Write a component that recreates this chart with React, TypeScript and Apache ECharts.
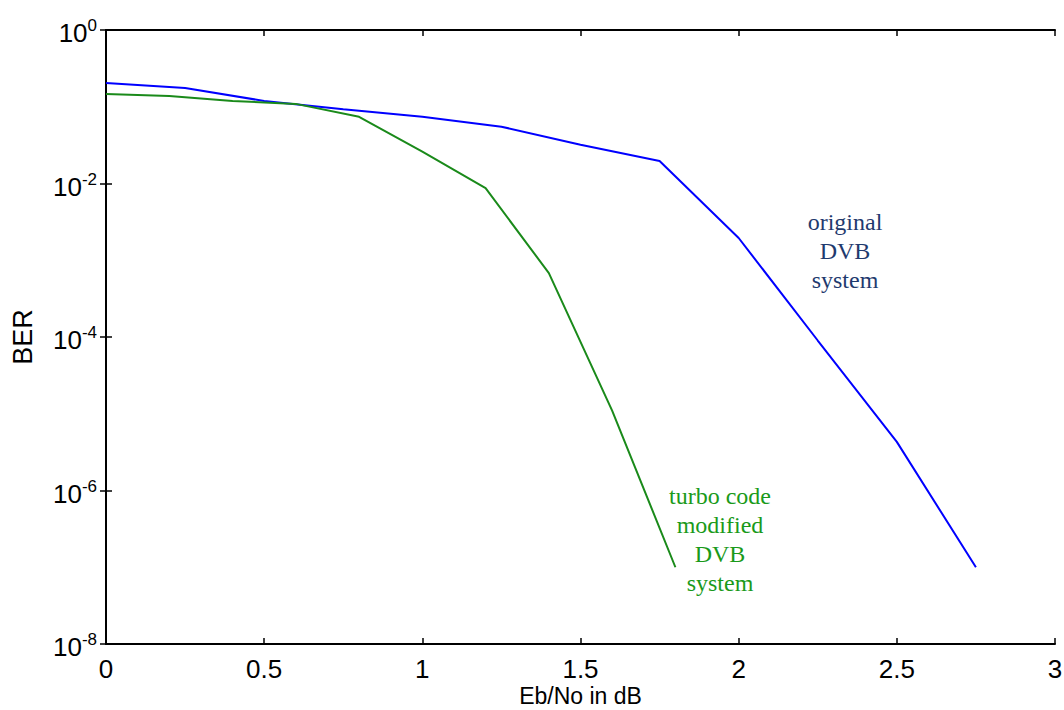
import React, { useEffect, useRef } from "react";
import * as echarts from "echarts";

const ebnoOriginal = [0, 0.25, 0.5, 0.75, 1.0, 1.25, 1.5, 1.75, 2.0, 2.25, 2.5, 2.75];
const berOriginal = [0.204, 0.175, 0.119, 0.093, 0.074, 0.055, 0.032, 0.0196, 0.00195, 9e-5, 4.3e-6, 1e-7];

const ebnoTurbo = [0, 0.2, 0.4, 0.6, 0.8, 1.0, 1.2, 1.4, 1.6, 1.8];
const berTurbo = [0.147, 0.138, 0.119, 0.109, 0.074, 0.026, 0.0087, 6.8e-4, 1.1e-5, 1e-7];

const xTicks = ["0", "0.5", "1", "1.5", "2", "2.5", "3"];
const labelOriginal = ["original", "DVB", "system"];
const labelTurbo = ["turbo code", "modified", "DVB", "system"];

export default function App() {
  const ref = useRef<HTMLDivElement>(null);
  useEffect(() => {
    if (!ref.current) return;
    const chart = echarts.init(ref.current, null, { renderer: "svg" });
    const axisLine = { show: true, lineStyle: { color: "#000", width: 2 } };
    const ticks = { show: true, inside: true, length: 6, lineStyle: { color: "#000", width: 1.5 } };
    const font = "Arial, 'Liberation Sans', sans-serif";
    const serif = "'Times New Roman', 'Liberation Serif', serif";
    const expLabel = (v: number) => `{b|10}{s|${Math.round(Math.log10(v))}}`;
    const rich = {
      b: { fontSize: 26, fontFamily: font, color: "#000", lineHeight: 26, padding: [6, 0, 0, 0] },
      s: { fontSize: 17, fontFamily: font, color: "#000", lineHeight: 20, verticalAlign: "top" as const },
    };
    chart.setOption({
      animation: false,
      backgroundColor: "#fff",
      grid: { left: 106, top: 30, right: 9, bottom: 66, containLabel: false, outerBoundsMode: "none" },
      xAxis: [
        {
          type: "value",
          min: 0,
          max: 3,
          interval: 0.5,
          position: "bottom",
          axisLine,
          axisTick: ticks,
          splitLine: { show: false },
          axisLabel: {
            fontSize: 26,
            fontFamily: font,
            color: "#000",
            margin: 12,
            formatter: (v: number) => xTicks[Math.round(v / 0.5)] ?? String(v),
          },
          name: "Eb/No in dB",
          nameLocation: "middle",
          nameGap: 40,
          nameMoveOverlap: false,
          nameTextStyle: { fontSize: 23, fontFamily: font, color: "#000", lineHeight: 23 },
        },
        {
          type: "value",
          min: 0,
          max: 3,
          interval: 0.5,
          position: "top",
          axisLine,
          axisTick: ticks,
          splitLine: { show: false },
          axisLabel: { show: false },
        },
      ],
      yAxis: [
        {
          type: "log",
          logBase: 10,
          min: 1e-8,
          max: 1,
          interval: 2,
          position: "left",
          axisLine,
          axisTick: ticks,
          minorTick: { show: false },
          splitLine: { show: false },
          axisLabel: { formatter: expLabel, rich, margin: 9 },
          name: "BER",
          nameLocation: "middle",
          nameGap: 70,
          nameRotate: 90,
          nameMoveOverlap: false,
          nameTextStyle: { fontSize: 27, fontFamily: font, color: "#000" },
        },
        {
          type: "log",
          logBase: 10,
          min: 1e-8,
          max: 1,
          interval: 2,
          position: "right",
          axisLine,
          axisTick: ticks,
          splitLine: { show: false },
          axisLabel: { show: false },
        },
      ],
      series: [
        {
          type: "line",
          name: "original DVB system",
          data: ebnoOriginal.map((x, i) => [x, berOriginal[i]]),
          showSymbol: false,
          lineStyle: { color: "#0000ff", width: 2 },
          xAxisIndex: 0,
          yAxisIndex: 0,
        },
        {
          type: "line",
          name: "turbo code modified DVB system",
          data: ebnoTurbo.map((x, i) => [x, berTurbo[i]]),
          showSymbol: false,
          lineStyle: { color: "#1a8a1a", width: 2 },
          xAxisIndex: 0,
          yAxisIndex: 0,
        },
      ],
      graphic: [
        {
          type: "text",
          x: 845,
          y: 207,
          style: {
            text: labelOriginal.join("\n"),
            fill: "#1f3a6e",
            font: `24px ${serif}`,
            lineHeight: 29,
            align: "center",
          },
        },
        {
          type: "text",
          x: 720,
          y: 481,
          style: {
            text: labelTurbo.join("\n"),
            fill: "#1a9a1a",
            font: `24px ${serif}`,
            lineHeight: 29,
            align: "center",
          },
        },
      ],
    });
    return () => chart.dispose();
  }, []);
  return (
    <div
      ref={ref}
      style={{ position: "fixed", left: 0, top: 0, width: 1064, height: 710, background: "#fff" }}
    />
  );
}
